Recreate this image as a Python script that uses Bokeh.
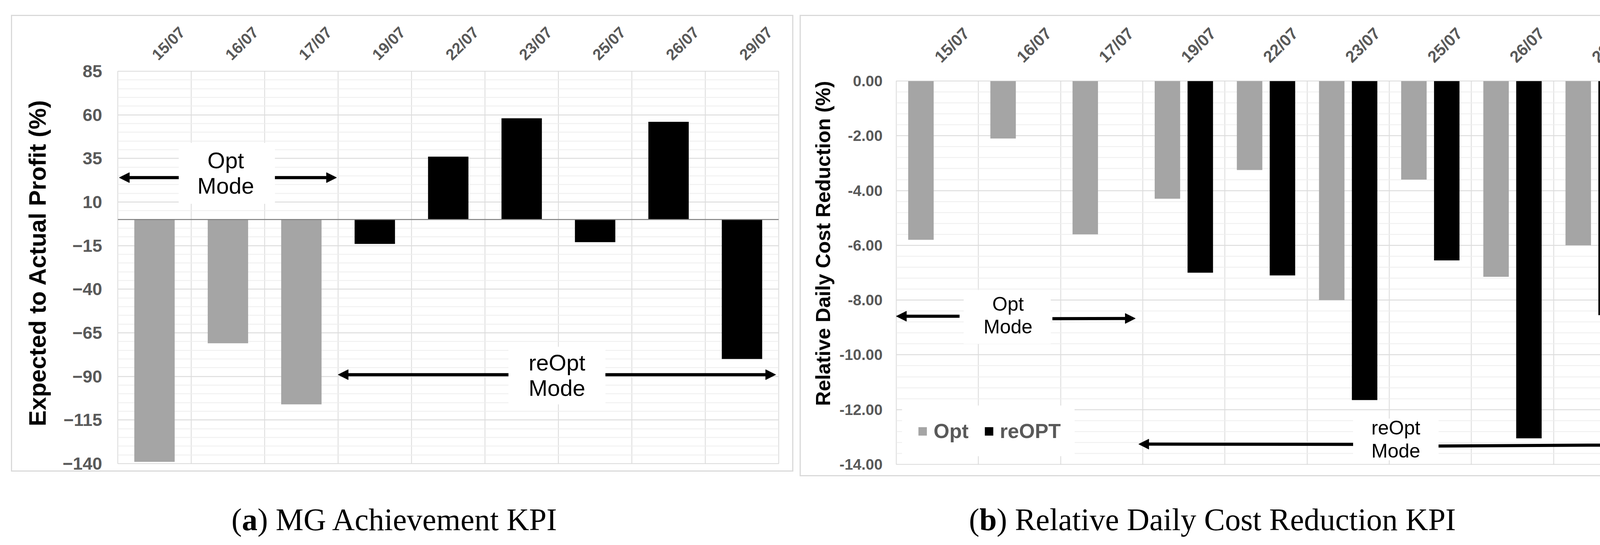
import math
import numpy as np
from bokeh.plotting import figure
from bokeh.layouts import column, row
from bokeh.models import (ColumnDataSource, FactorRange, Range1d, FixedTicker, Span, Arrow,
                          NormalHead, Legend, LegendItem, Title, NumeralTickFormatter)
from bokeh.transform import dodge, factor_cmap
from bokeh.core.properties import value
from bokeh.embed import file_html
from bokeh.resources import INLINE

# ---------------- data ----------------
dates = ["15/07", "16/07", "17/07", "19/07", "22/07", "23/07", "25/07", "26/07", "29/07"]
mg_kpi = [-139, -71, -106, -14, 36, 58, -13, 56, -80]
mg_mode = ["Opt", "Opt", "Opt", "reOpt", "reOpt", "reOpt", "reOpt", "reOpt", "reOpt"]
mg_ticks = [85, 60, 35, 10, -15, -40, -65, -90, -115, -140]

cost_opt = [-5.80, -2.10, -5.60, -4.30, -3.25, -8.00, -3.60, -7.15, -6.00]
cost_reopt = [float("nan"), float("nan"), float("nan"), -7.00, -7.10, -11.65, -6.55, -13.05, -8.55]
cost_ticks = [0, -2, -4, -6, -8, -10, -12, -14]

series_names = ["Opt", "reOPT"]
caption_keys = ["a", "b"]
caption_texts = ["MG Achievement KPI", "Relative Daily Cost Reduction KPI"]

# ---------------- styles ----------------
GRAY = "#a5a5a5"
BLACK = "#000000"
TICK = "#595959"
GRID = "#d9d9d9"
MINOR = "#eeeeee"
SANS = "Liberation Sans"
SERIF = "Liberation Serif"
BOX = {"border": "3px solid #d9d9d9"}


def style(p, tick_size, cat_size, y_standoff, x_standoff, n_cat):
    p.xaxis.major_label_orientation = math.pi / 4
    p.xaxis.major_label_text_font = SANS
    p.xaxis.major_label_text_font_style = "bold"
    p.xaxis.major_label_text_font_size = cat_size
    p.xaxis.major_label_text_color = TICK
    p.xaxis.major_label_standoff = x_standoff
    p.yaxis.major_label_text_font = SANS
    p.yaxis.major_label_text_font_style = "bold"
    p.yaxis.major_label_text_font_size = tick_size
    p.yaxis.major_label_text_color = TICK
    p.yaxis.major_label_standoff = y_standoff
    for ax in (p.xaxis, p.yaxis):
        ax.axis_line_color = None
        ax.major_tick_line_color = None
        ax.minor_tick_line_color = None
        ax.major_tick_out = 0
        ax.major_tick_in = 0
        ax.minor_tick_out = 0
    p.xgrid.ticker = FixedTicker(ticks=list(range(1, n_cat)))
    p.xgrid.grid_line_color = GRID
    p.xgrid.grid_line_width = 2
    p.ygrid.grid_line_color = GRID
    p.ygrid.grid_line_width = 2
    p.ygrid.minor_grid_line_color = MINOR
    p.ygrid.minor_grid_line_width = 2
    p.outline_line_color = GRID
    p.outline_line_width = 2
    p.background_fill_color = "white"
    p.border_fill_color = "white"


# ---------------- (a) MG Achievement KPI ----------------
src_a = ColumnDataSource(dict(date=dates, kpi=mg_kpi, mode=mg_mode))
pa = figure(x_range=FactorRange(*dates, range_padding=0), y_range=Range1d(-140, 85),
            frame_width=1686, frame_height=999,
            min_border_left=255, min_border_right=41, min_border_top=140, min_border_bottom=24,
            x_axis_location="above", output_backend="svg", toolbar_location=None,
            styles=BOX)
pa.yaxis.ticker = FixedTicker(ticks=mg_ticks, minor_ticks=list(range(-140, 86, 5)))
style(pa, "45px", "40px", 40, 36, len(dates))
pa.vbar(x="date", top="kpi", bottom=0, width=0.55, source=src_a, line_color=None,
        fill_color=factor_cmap("mode", palette=[GRAY, BLACK], factors=["Opt", "reOpt"]))
pa.add_layout(Span(location=0, dimension="width", line_color="#7f7f7f", line_width=2.5))

# mode annotations (a)
pa.quad(left=[0.83, 5.32], right=[2.14, 6.64], top=[44, -73], bottom=[9, -106],
        fill_color="white", line_color=None)
pa.text(x=[1.47, 5.98], y=[26.6, -89.2], text=["Opt\nMode", "reOpt\nMode"],
        text_align="center", text_baseline="middle", text_font=value(SANS),
        text_font_size="58px", text_line_height=1.0, text_color="black")
for xs, xe, y in [(0.83, 0.02, 24), (2.14, 2.98, 24), (5.32, 3.0, -89), (6.64, 8.96, -89)]:
    pa.add_layout(Arrow(end=NormalHead(size=26, fill_color="black", line_color="black"),
                        x_start=xs, y_start=y, x_end=xe, y_end=y, line_width=8, line_color="black"))

pa.add_layout(Title(text="Expected to Actual Profit (%)", align="right", offset=72, text_font=SANS,
                    text_font_style="bold", text_font_size="61px", text_color="black",
                    standoff=56), "left")

# ---------------- (b) Relative Daily Cost Reduction KPI ----------------
src_b = ColumnDataSource(dict(date=dates, opt=cost_opt, reopt=cost_reopt))
pb = figure(x_range=FactorRange(*dates, range_padding=0), y_range=Range1d(-14, 0),
            frame_width=1887, frame_height=976,
            min_border_left=244, min_border_right=31, min_border_top=165, min_border_bottom=34,
            x_axis_location="above", output_backend="svg", toolbar_location=None,
            styles=BOX)
pb.yaxis.ticker = FixedTicker(ticks=cost_ticks, minor_ticks=list(np.round(np.arange(-14, 0.01, 0.4), 2)))
pb.yaxis.formatter = NumeralTickFormatter(format="0.00")
style(pb, "39px", "42px", 35, 55, len(dates))
r_opt = pb.vbar(x=dodge("date", -0.2, range=pb.x_range), top="opt", bottom=0, width=0.31,
                source=src_b, fill_color=GRAY, line_color=None)
r_re = pb.vbar(x=dodge("date", 0.2, range=pb.x_range), top="reopt", bottom=0, width=0.31,
               source=src_b, fill_color=BLACK, line_color=None)

# white panels behind mode labels and legend
pb.quad(left=[0.82, 5.56, 0.07], right=[1.88, 6.6, 2.17], top=[-7.63, -12.33, -11.85],
        bottom=[-9.6, -13.85, -13.7], fill_color="white", line_color=None)
pb.text(x=[1.36, 6.08], y=[-8.56, -13.09], text=["Opt\nMode", "reOpt\nMode"],
        text_align="center", text_baseline="middle", text_font=value(SANS),
        text_font_size="50px", text_line_height=1.05, text_color="black")
for xs, ys, xe, ye in [(0.77, -8.59, 0.0, -8.59), (1.9, -8.68, 2.91, -8.67),
                       (5.56, -13.27, 2.95, -13.26), (6.6, -13.33, 8.93, -13.29)]:
    pb.add_layout(Arrow(end=NormalHead(size=26, fill_color="black", line_color="black"),
                        x_start=xs, y_start=ys, x_end=xe, y_end=ye, line_width=8, line_color="black"))

legend = Legend(items=[LegendItem(label=series_names[0], renderers=[r_opt]),
                       LegendItem(label=series_names[1], renderers=[r_re])],
                location=(54, 55), orientation="horizontal", background_fill_alpha=0.0,
                border_line_color=None, padding=36, spacing=38,
                label_standoff=15, glyph_width=27, glyph_height=27, margin=0,
                label_text_font=SANS, label_text_font_style="bold", label_text_font_size="52px",
                label_text_color=TICK)
pb.add_layout(legend)

pb.add_layout(Title(text="Relative Daily Cost Reduction (%)", align="right", offset=0, text_font=SANS,
                    text_font_style="bold", text_font_size="52px", text_color="black",
                    standoff=20), "left")

# ---------------- captions ----------------
pc = figure(width=4236, height=160, x_range=Range1d(8, 4244), y_range=Range1d(1387, 1227),
            title=None, output_backend="svg", toolbar_location=None, min_border=0,
            min_border_left=0, min_border_right=0, min_border_top=0, min_border_bottom=0,
            x_axis_location=None, y_axis_location=None, outline_line_color=None)
pc.grid.visible = False
cap_x = [600, 2488]
key_w = [0.5 * 80, 0.556 * 80]
paren_w = 0.333 * 80
cap_y = 1337
for i in range(2):
    pc.text(x=[cap_x[i]], y=[cap_y], text=["("], text_font=value(SERIF), text_font_size="80px",
            text_baseline="alphabetic", text_color="black")
    pc.text(x=[cap_x[i] + paren_w], y=[cap_y], text=[caption_keys[i]], text_font=value(SERIF),
            text_font_size="80px", text_font_style="bold", text_baseline="alphabetic", text_color="black")
    pc.text(x=[cap_x[i] + paren_w + key_w[i]], y=[cap_y], text=[") " + caption_texts[i]],
            text_font=value(SERIF), text_font_size="80px", text_baseline="alphabetic", text_color="black")

left_col = column(pa, margin=(38, 0, 0, 28))
right_col = column(pb, margin=(38, 0, 0, 16))
layout = column(row(left_col, right_col), pc)
open("out.html", "w").write(file_html(layout, INLINE))
